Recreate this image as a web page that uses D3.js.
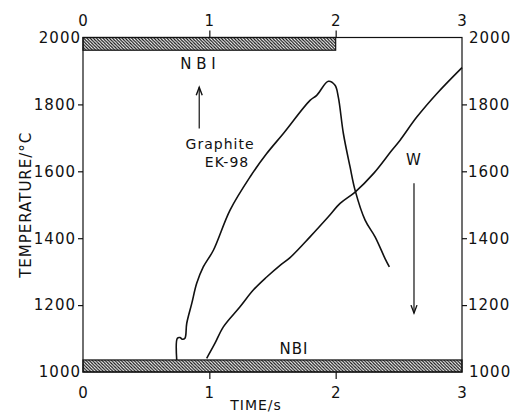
<!DOCTYPE html>
<html>
<head>
<meta charset="utf-8">
<script src="https://cdn.jsdelivr.net/npm/d3@7"></script>
<style>
  body { margin: 0; background: #fff; }
  text { font-family: "DejaVu Sans", sans-serif; fill: #111; }
</style>
</head>
<body>
<div id="chart"></div>
<script>
// time (s) / temperature (°C)
let graphiteTime = [0.742, 0.747, 0.768, 0.786, 0.807, 0.821, 0.861, 0.900, 0.952, 1.032, 1.164, 1.322, 1.454, 1.586, 1.797, 1.850, 1.942, 1.995, 2.021, 2.061, 2.114, 2.154, 2.233, 2.312, 2.391, 2.425];
let graphiteTemp = [1036, 1101, 1103, 1098, 1101, 1145, 1205, 1265, 1314, 1364, 1484, 1583, 1653, 1713, 1812, 1827, 1869, 1857, 1822, 1713, 1613, 1543, 1454, 1404, 1339, 1314];

let wTime = [0.979, 1.045, 1.111, 1.243, 1.348, 1.454, 1.560, 1.639, 1.797, 1.942, 2.035, 2.154, 2.299, 2.445, 2.510, 2.642, 2.800, 3.0];
let wTemp = [1041, 1086, 1135, 1195, 1245, 1284, 1319, 1342, 1404, 1464, 1504, 1538, 1593, 1663, 1693, 1762, 1832, 1910];

let xTicks = [0, 1, 2, 3];
let yTicks = [1000, 1200, 1400, 1600, 1800, 2000];

// NBI bars: [t0, t1, Tlow, Thigh]
let nbiTop = [0, 2, 1962, 2000];
let nbiBottom = [0, 3, 1000, 1036];

let margin = {left: 83, right: 53, top: 37.5, bottom: 43};
let width = 515 - margin.left - margin.right,
    height = 415 - margin.top - margin.bottom;

let svg = d3.select("#chart")
    .append("svg")
    .attr("width", 515)
    .attr("height", 415);

let defs = svg.append("defs");
defs.append("pattern")
    .attr("id", "hatch")
    .attr("patternUnits", "userSpaceOnUse")
    .attr("width", 3.2)
    .attr("height", 3.2)
    .append("path")
    .attr("d", "M-1,-1 L4.2,4.2 M-1,2.2 L1,4.2 M2.2,-1 L4.2,1")
    .attr("stroke", "#111")
    .attr("stroke-width", 1.2);

let g = svg.append("g")
    .attr("transform", "translate(" + margin.left + ", " + margin.top + ")");

let x = d3.scaleLinear().domain([0, 3]).range([0, width]);
let y = d3.scaleLinear().domain([1000, 2000]).range([height, 0]);

// hatched NBI bars
[nbiTop, nbiBottom].forEach(b => {
    g.append("rect")
        .attr("x", x(b[0]))
        .attr("y", y(b[3]))
        .attr("width", x(b[1]) - x(b[0]))
        .attr("height", y(b[2]) - y(b[3]))
        .attr("fill", "url(#hatch)")
        .attr("stroke", "#111")
        .attr("stroke-width", 1.2);
});

// frame
g.append("rect")
    .attr("width", width)
    .attr("height", height)
    .attr("fill", "none")
    .attr("stroke", "#111")
    .attr("stroke-width", 1.2);

let styleAxis = (sel) => {
    sel.select(".domain").remove();
    sel.selectAll("line").attr("stroke", "#111").attr("stroke-width", 1.2);
    sel.selectAll("text")
        .attr("font-size", "15px")
        .attr("letter-spacing", "1px")
        .attr("fill", "#111");
};

let ends = (d) => d === 1000 || d === 2000 || d === 0 || d === 3;

let leftAxis = g.append("g")
    .call(d3.axisLeft(y).tickValues(yTicks).tickSize(5).tickPadding(2).tickFormat(d3.format("d")))
    .call(styleAxis);
leftAxis.selectAll(".tick line").filter(ends).remove();
leftAxis.selectAll(".tick text").filter(ends).attr("x", -2);

let rightAxis = g.append("g")
    .attr("transform", "translate(" + width + ",0)")
    .call(d3.axisRight(y).tickValues(yTicks).tickSize(5).tickPadding(1).tickFormat(d3.format("d")))
    .call(styleAxis);
rightAxis.selectAll(".tick line").filter(ends).remove();
rightAxis.selectAll(".tick text").filter(ends).attr("x", 7);

let bottomAxis = g.append("g")
    .attr("transform", "translate(0," + height + ")")
    .call(d3.axisBottom(x).tickValues(xTicks).tickSize(7).tickPadding(8).tickFormat(d3.format("d")))
    .call(styleAxis);
bottomAxis.selectAll(".tick line").filter(ends).remove();

let topAxis = g.append("g")
    .call(d3.axisTop(x).tickValues(xTicks).tickSize(7).tickPadding(5).tickFormat(d3.format("d")))
    .call(styleAxis);
topAxis.selectAll(".tick line").filter(ends).remove();

// axis titles
g.append("text")
    .attr("x", x(1.37))
    .attr("y", height + 38)
    .attr("font-size", "14px")
    .attr("letter-spacing", "1px")
    .attr("text-anchor", "middle")
    .text("TIME/s");

g.append("text")
    .attr("transform", "translate(" + (31 - margin.left) + "," + y(1500) + ") rotate(-90)")
    .attr("font-size", "15px")
    .attr("letter-spacing", "1px")
    .attr("text-anchor", "middle")
    .text("TEMPERATURE/°C");

// curves
let line = d3.line()
    .x(d => x(d[0]))
    .y(d => y(d[1]))
    .curve(d3.curveCatmullRom.alpha(0.5));

g.append("path")
    .datum(d3.zip(graphiteTime, graphiteTemp))
    .attr("d", line)
    .attr("fill", "none")
    .attr("stroke", "#111")
    .attr("stroke-width", 1.6);

g.append("path")
    .datum(d3.zip(wTime, wTemp))
    .attr("d", line)
    .attr("fill", "none")
    .attr("stroke", "#111")
    .attr("stroke-width", 1.6);

// annotations
let label = (t, T, s) => g.append("text")
    .attr("x", x(t))
    .attr("y", y(T))
    .attr("font-size", "15px")
    .attr("letter-spacing", "1px")
    .attr("text-anchor", "middle")
    .text(s);

label(0.91, 1907, "N B I").attr("letter-spacing", "0px");
label(1.085, 1666, "Graphite").attr("font-size", "14px");
label(1.14, 1612, "EK-98").attr("font-size", "14px");
label(2.62, 1618, "W");
label(1.67, 1054, "NBI");

let arrow = (t, T0, T1) => {
    let x0 = x(t), y0 = y(T0), y1 = y(T1);
    let dir = y1 < y0 ? 1 : -1;
    g.append("line")
        .attr("x1", x0).attr("y1", y0)
        .attr("x2", x0).attr("y2", y1)
        .attr("stroke", "#111")
        .attr("stroke-width", 1.2);
    g.append("path")
        .attr("d", "M" + (x0 - 3) + "," + (y1 + dir * 8) + " L" + x0 + "," + y1 + " L" + (x0 + 3) + "," + (y1 + dir * 8))
        .attr("fill", "none")
        .attr("stroke", "#111")
        .attr("stroke-width", 1.4);
};

arrow(0.92, 1728, 1851);
arrow(2.62, 1564, 1176);
</script>
</body>
</html>
